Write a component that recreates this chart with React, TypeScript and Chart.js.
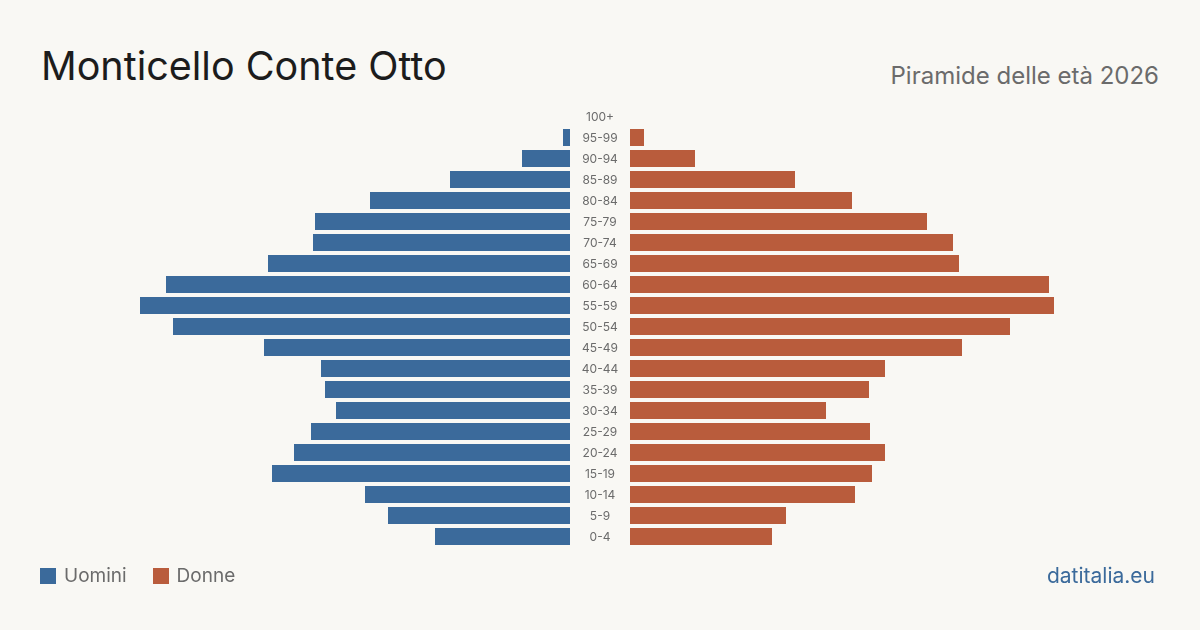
import React, { useEffect, useRef } from "react";
import { Chart, registerables } from "chart.js";

Chart.register(...registerables);

const ageGroups = [
  "100+", "95-99", "90-94", "85-89", "80-84", "75-79", "70-74", "65-69", "60-64", "55-59",
  "50-54", "45-49", "40-44", "35-39", "30-34", "25-29", "20-24", "15-19", "10-14", "5-9", "0-4",
];
const men = [0, 7, 48, 120, 200, 255, 257, 302, 404, 430, 397, 306, 249, 245, 234, 259, 276, 298, 205, 182, 135];
const women = [0, 14, 65, 165, 222, 297, 323, 329, 419, 424, 380, 332, 255, 239, 196, 240, 255, 242, 225, 156, 142];
const axisMax = 530;

const title = "Monticello Conte Otto";
const subtitle = "Piramide delle età 2026";
const legendLabels = ["Uomini", "Donne"];
const source = "datitalia.eu";

const BLUE = "#3b6a9b";
const RED = "#b95c3c";
const BG = "#f9f8f4";
const GREY = "#6b6b6b";
const FONT = "Inter, 'Noto Sans', sans-serif";

const centerLabels = {
  id: "centerLabels",
  afterDatasetsDraw(chart: any) {
    const { ctx, chartArea, scales } = chart;
    const y = scales.y;
    ctx.save();
    ctx.font = "12px " + FONT;
    ctx.fillStyle = GREY;
    ctx.textAlign = "center";
    ctx.textBaseline = "middle";
    ageGroups.forEach((g, i) => {
      ctx.fillText(g, chartArea.left - 30, y.getPixelForValue(i) + 0.5);
    });
    ctx.restore();
  },
};

function makeOptions(reverse: boolean, padding: any) {
  return {
    indexAxis: "y" as const,
    responsive: false,
    animation: false as const,
    layout: { padding },
    plugins: { legend: { display: false }, tooltip: { enabled: false } },
    scales: {
      x: { display: false, min: 0, max: axisMax, reverse },
      y: { display: false },
    },
  };
}

export default function App() {
  const leftRef = useRef<HTMLCanvasElement>(null);
  const rightRef = useRef<HTMLCanvasElement>(null);

  useEffect(() => {
    const left = new Chart(leftRef.current!, {
      type: "bar",
      data: {
        labels: ageGroups,
        datasets: [
          {
            label: legendLabels[0],
            data: men,
            backgroundColor: BLUE,
            barPercentage: 17 / 21,
            categoryPercentage: 1,
          },
        ],
      },
      options: makeOptions(true, { left: 40, right: 0, top: 106, bottom: 83 }) as any,
    });
    const right = new Chart(rightRef.current!, {
      type: "bar",
      data: {
        labels: ageGroups,
        datasets: [
          {
            label: legendLabels[1],
            data: women,
            backgroundColor: RED,
            barPercentage: 17 / 21,
            categoryPercentage: 1,
          },
        ],
      },
      options: makeOptions(false, { left: 60, right: 40, top: 106, bottom: 83 }) as any,
      plugins: [centerLabels],
    });
    return () => {
      left.destroy();
      right.destroy();
    };
  }, []);

  return (
    <div
      style={{
        position: "absolute",
        left: 0,
        top: 0,
        width: 1200,
        height: 630,
        background: BG,
        fontFamily: FONT,
        overflow: "hidden",
      }}
    >
      <div
        style={{
          position: "absolute",
          left: 41,
          top: 46,
          fontSize: 39.5,
          lineHeight: "40px",
          color: "#1c1c1c",
          whiteSpace: "nowrap",
        }}
      >
        {title}
      </div>
      <div
        style={{
          position: "absolute",
          right: 41,
          top: 62,
          fontSize: 24,
          lineHeight: "28px",
          color: GREY,
          whiteSpace: "nowrap",
        }}
      >
        {subtitle}
      </div>
      <canvas
        ref={leftRef}
        width={570}
        height={630}
        style={{ position: "absolute", left: 0, top: 0, width: 570, height: 630 }}
      />
      <canvas
        ref={rightRef}
        width={630}
        height={630}
        style={{ position: "absolute", left: 570, top: 0, width: 630, height: 630 }}
      />
      <div
        style={{
          position: "absolute",
          left: 40,
          top: 564,
          display: "flex",
          alignItems: "center",
          fontSize: 19,
          lineHeight: "24px",
          color: GREY,
        }}
      >
        <span style={{ width: 16, height: 16, background: BLUE, display: "inline-block", marginRight: 8 }} />
        <span style={{ marginRight: 26 }}>{legendLabels[0]}</span>
        <span style={{ width: 16, height: 16, background: RED, display: "inline-block", marginRight: 8 }} />
        <span>{legendLabels[1]}</span>
      </div>
      <div
        style={{
          position: "absolute",
          right: 45,
          top: 563,
          fontSize: 21,
          lineHeight: "26px",
          color: BLUE,
          whiteSpace: "nowrap",
        }}
      >
        {source}
      </div>
    </div>
  );
}
